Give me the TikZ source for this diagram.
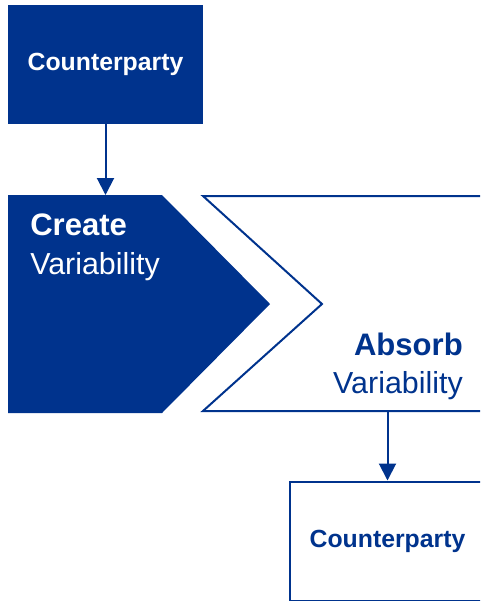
\documentclass[tikz,border=0pt]{standalone}
\usepackage{fontspec}
\setmainfont{Liberation Sans}
\usetikzlibrary{arrows.meta}
\definecolor{kblue}{RGB}{0,51,141}
\begin{document}
\begin{tikzpicture}[x=0.75pt,y=-0.75pt,
party/.style={rectangle,minimum width=146.25pt,minimum height=89.25pt,inner sep=0,font=\fontsize{18.6}{22}\selectfont\bfseries},
big/.style={inner sep=0,font=\fontsize{22.8}{27}\selectfont},
head/.style={big,font=\fontsize{23.3}{27}\selectfont\bfseries},
link/.style={draw=kblue,line width=1.5pt,-{Triangle[length=12.75pt,width=12.75pt]}}]
\clip(0,0)rectangle(480,601);
\node[party,fill=kblue,text=white](cpA)at(105.5,64){Counterparty};
\fill[kblue](8,195)--(162,195)--(270,304)--(162,413)--(8,413)--cycle;
\draw[kblue,line width=1.5pt](600,196)--(203,196)--(322,304)--(203,411)--(600,411);
\coordinate(crTop)at(105.5,195);\coordinate(abBot)at(387.5,411);
\node[party,draw=kblue,line width=1.5pt,text=kblue](cpB)at(387.5,541){Counterparty};
\node[head,anchor=base west,text=white](crT)at(30,235){Create};
\node[big,anchor=base west,text=white](crV)at(30,274){Variability};
\node[head,anchor=base east,text=kblue](abT)at(463,355){Absorb};
\node[big,anchor=base east,text=kblue](abV)at(463,393){Variability};
\draw[link](cpA)--(crTop);
\draw[link](abBot)--(cpB);
\end{tikzpicture}
\end{document}
